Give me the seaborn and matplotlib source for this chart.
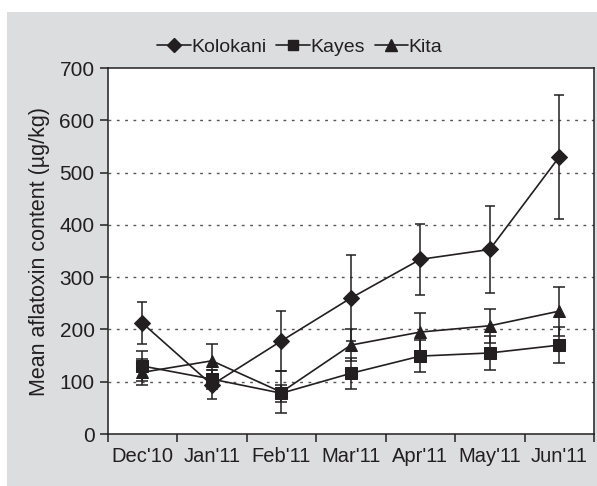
import numpy as np
import pandas as pd
import matplotlib
matplotlib.use("Agg")
import matplotlib.pyplot as plt
import seaborn as sns

months = ["Dec'10", "Jan'11", "Feb'11", "Mar'11", "Apr'11", "May'11", "Jun'11"]
sites = ["Kolokani", "Kayes", "Kita"]

kolokani = [212, 94, 178, 260, 334, 353, 530]
kolokani_err = [40, 28, 58, 82, 68, 83, 119]
kayes = [130, 105, 78, 116, 149, 155, 170]
kayes_err = [28, 18, 16, 30, 30, 33, 34]
kita = [118, 140, 80, 170, 195, 207, 235]
kita_err = [25, 32, 40, 30, 37, 32, 47]

means = {"Kolokani": kolokani, "Kayes": kayes, "Kita": kita}
errs = {"Kolokani": kolokani_err, "Kayes": kayes_err, "Kita": kita_err}
markers = {"Kolokani": "D", "Kayes": "s", "Kita": "^"}
msizes = {"Kolokani": 7.5, "Kayes": 7.5, "Kita": 8.5}

rows = []
for s in sites:
    for i, m in enumerate(months):
        rows.append({"pos": i, "month": m, "site": s, "value": means[s][i], "err": errs[s][i]})
df = pd.DataFrame(rows)

sns.set_theme(style="white")
plt.rcParams["font.family"] = ["Liberation Sans", "DejaVu Sans"]

ink = "#231f20"
fig = plt.figure(figsize=(5.97, 4.86), dpi=100)
fig.patch.set_facecolor("white")
# grey panel behind the chart
fig.patches.append(plt.Rectangle((7 / 597, 0), 1, 1 - 12 / 486, transform=fig.transFigure,
                                 facecolor="#dcdddf", edgecolor="none", zorder=-10))
ax = fig.add_axes([107.7 / 597, 1 - 434 / 486, (594 - 107.7) / 597, (434 - 68) / 486])
ax.set_facecolor("white")

for s in sites:
    d = df[df["site"] == s]
    ax.errorbar(d["pos"], d["value"], yerr=d["err"], fmt="none", ecolor=ink,
                elinewidth=1.1, capsize=4, capthick=1.1, zorder=3)

sns.lineplot(data=df, x="pos", y="value", hue="site", style="site",
             hue_order=sites, style_order=sites,
             palette={s: ink for s in sites}, dashes=False,
             markers=markers, markersize=8, markeredgecolor=ink,
             linewidth=1.2, ax=ax, legend=False, zorder=4)
for line, s in zip(ax.get_lines(), sites):
    line.set_markersize(msizes[s])

ax.set_xlim(-0.5, 6.5)
ax.set_ylim(0, 700)
ax.set_yticks(range(0, 701, 100))
ax.set_xticks(np.arange(-0.5, 7, 1))
ax.set_xticklabels([])
ax.set_xticks(range(len(months)), minor=True)
ax.set_xticklabels(months, minor=True)
ax.tick_params(axis="x", which="minor", length=0, pad=9, labelsize=14.5, colors=ink)
ax.tick_params(axis="x", which="major", length=6, width=1.1, direction="out", color=ink, bottom=True)
ax.tick_params(axis="y", length=6, width=1.1, direction="out", labelsize=15, colors=ink, left=True)

for v in range(100, 700, 100):
    ax.axhline(v, color="#555555", linestyle=(0, (2, 4)), linewidth=1.0, zorder=1)

for side in ["left", "bottom", "top", "right"]:
    ax.spines[side].set_color(ink)
    ax.spines[side].set_linewidth(1.1)

ax.set_xlabel("")
ax.set_ylabel("Mean aflatoxin content (µg/kg)", fontsize=15.5, color=ink, labelpad=7)

handles = [plt.Line2D([], [], color=ink, marker=markers[s], markersize=msizes[s] - 0.5,
                      linewidth=1.2) for s in sites]
fig.legend(handles, sites, loc="center", bbox_to_anchor=(300 / 597, 1 - 47 / 486),
           ncol=3, frameon=False, fontsize=14, handlelength=1.7, handletextpad=0.05,
           columnspacing=0.5, labelcolor=ink)

fig.savefig("out.png", dpi=100, facecolor=fig.get_facecolor())
